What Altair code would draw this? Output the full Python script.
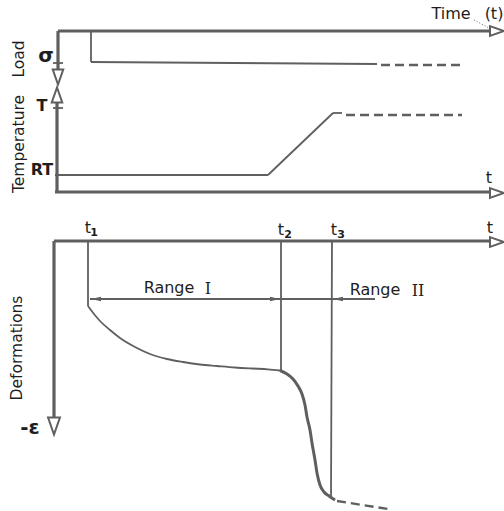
import altair as alt
import pandas as pd

W, H = 504, 511
INK = "#5f5f5f"
TXT = "#1e1e1e"

# ---- schematic geometry (drawing coordinates, y downward) ----
# thick axes
axis_x1 = [58, 58, 57, 55, 54, 54]
axis_y1 = [31, 31, 103, 192, 241, 241]
axis_x2 = [490, 58, 57, 490, 490, 54]
axis_y2 = [31, 70, 192, 192, 241, 418]

# thin solid lines: load step, temperature path, time markers, range line, ticks
thin_x1 = [91, 91, 55, 268, 333, 88, 281, 332, 90, 53, 53]
thin_y1 = [31, 62, 175, 175, 113, 241, 241, 241, 299, 63, 108]
thin_x2 = [91, 377, 268, 333, 342, 88, 281, 331, 375, 63, 63]
thin_y2 = [62, 64, 175, 113, 113, 306, 370, 496, 299, 63, 108]

# dashed continuations
dash_x1 = [381, 346, 337]
dash_y1 = [65, 115, 501]
dash_x2 = [462, 462, 388]
dash_y2 = [65, 115, 509]

# deformation curve: primary creep (range I) and accelerated part (range II)
creep1_x = [88, 94, 100, 110, 120, 135, 150, 167, 183, 200, 217, 235, 252, 268, 280]
creep1_y = [306, 314, 321, 330, 338, 347, 354, 359, 362, 364.5, 366, 367.5, 368.5, 369.3, 370.5]
creep2_x = [280, 287, 293, 298, 302, 305, 307, 310, 312, 315, 317, 320, 324, 329, 335]
creep2_y = [370.5, 374, 379, 386, 394, 405, 417, 430, 443, 460, 473, 485, 492, 496, 500]

# arrowheads
RIGHT = "M -1 -0.7 L 1 0 L -1 0.7 Z"
DOWN = "M -0.7 -1 L 0.7 -1 L 0 1 Z"
UP = "M -0.7 1 L 0.7 1 L 0 -1 Z"
SR = "M -1 -0.45 L 1 0 L -1 0.45 Z"
SL = "M 1 -0.45 L -1 0 L 1 0.45 Z"
hollow_x = [497, 497, 497, 58, 57, 54]
hollow_y = [31, 193, 242, 77, 95, 426]
hollow_shape = [RIGHT, RIGHT, RIGHT, DOWN, UP, DOWN]
hollow_size = [196, 196, 196, 225, 225, 289]
small_x = [96, 275, 338]
small_y = [299, 299, 299]
small_shape = [SL, SR, SL]

# labels
lab_text = ["Time", "(t)", "t", "t", "t", "t", "t", "Range", "Range"]
lab_x = [451, 494, 489, 88, 281, 334, 490, 169, 375]
lab_y = [14, 14, 178, 228, 230, 230, 228, 288, 290]
sym_text = ["σ", "T", "RT", "-ε"]
sym_x = [46, 42, 42, 30]
sym_y = [56, 106, 170, 428]
sym_size = [20, 16, 16, 20]
sub_text = ["1", "2", "3"]
sub_x = [94, 288, 341]
sub_y = [233, 235, 235]
roman_text = ["I", "II"]
roman_x = [208, 418]
roman_y = [289, 291]
vlab_text = ["Load", "Temperature", "Deformations"]
vlab_x = [19, 19, 17]
vlab_y = [59, 144, 348]

xs = alt.Scale(domain=[0, W], range=[0, W])
ys = alt.Scale(domain=[0, H], range=[0, H])
X = alt.X("x:Q", scale=xs, axis=None)
Y = alt.Y("y:Q", scale=ys, axis=None)


def seg_df(x1, y1, x2, y2):
    return pd.DataFrame({"x": x1, "y": y1, "x2": x2, "y2": y2})


def rules(df, width, dash=None):
    kw = dict(color=INK, strokeWidth=width, strokeCap="butt")
    if dash:
        kw["strokeDash"] = dash
    return alt.Chart(df).mark_rule(**kw).encode(x=X, y=Y, x2="x2:Q", y2="y2:Q")


def texts(t, x, y, **kw):
    df = pd.DataFrame({"t": t, "x": x, "y": y})
    base = dict(font="DejaVu Sans", fontSize=16, color=TXT, baseline="middle", align="center")
    base.update(kw)
    return alt.Chart(df).mark_text(**base).encode(x=X, y=Y, text="t:N")


axes = rules(seg_df(axis_x1, axis_y1, axis_x2, axis_y2), 3.2)
thin = rules(seg_df(thin_x1, thin_y1, thin_x2, thin_y2), 1.8)
dashed = rules(seg_df(dash_x1, dash_y1, dash_x2, dash_y2), 2.4, [9, 5])
dots = rules(seg_df([474], [20], [489], [28]), 1, [1, 2])

c1 = pd.DataFrame({"x": creep1_x, "y": creep1_y, "i": range(len(creep1_x))})
c2 = pd.DataFrame({"x": creep2_x, "y": creep2_y, "i": range(len(creep2_x))})
curve1 = alt.Chart(c1).mark_line(color=INK, strokeWidth=1.8, interpolate="monotone").encode(
    x=X, y=Y, order="i:Q")
curve2 = alt.Chart(c2).mark_line(color=INK, strokeWidth=3, interpolate="monotone").encode(
    x=X, y=Y, order="i:Q")

hol = pd.DataFrame({"x": hollow_x, "y": hollow_y, "shape": hollow_shape, "size": hollow_size})
hollow = alt.Chart(hol).mark_point(filled=True, fill="white", stroke=INK, strokeWidth=2, opacity=1).encode(
    x=X, y=Y, shape=alt.Shape("shape:N", scale=None), size=alt.Size("size:Q", scale=None))

sm = pd.DataFrame({"x": small_x, "y": small_y, "shape": small_shape})
small = alt.Chart(sm).mark_point(filled=True, color=INK, size=100, opacity=1).encode(
    x=X, y=Y, shape=alt.Shape("shape:N", scale=None))

labels = texts(lab_text, lab_x, lab_y, fontSize=16)
sym_df = pd.DataFrame({"t": sym_text, "x": sym_x, "y": sym_y, "s": sym_size})
syms = alt.Chart(sym_df).mark_text(font="DejaVu Sans", color=TXT, baseline="middle", align="center",
                                   fontWeight="bold").encode(
    x=X, y=Y, text="t:N", size=alt.Size("s:Q", scale=None))
subs = texts(sub_text, sub_x, sub_y, fontSize=11, fontWeight="bold")
romans = texts(roman_text, roman_x, roman_y, font="DejaVu Serif", fontSize=16)
vlabels = texts(vlab_text, vlab_x, vlab_y, fontSize=15.5, angle=270)

chart = alt.layer(axes, thin, dashed, dots, curve1, curve2, hollow, small,
                  labels, syms, subs, romans, vlabels).properties(
    width=W, height=H, padding=0, autosize=alt.AutoSizeParams(type="none"), background="white"
).configure_view(stroke=None)

chart.save("out.html", embed_options={"renderer": "svg", "actions": False})
